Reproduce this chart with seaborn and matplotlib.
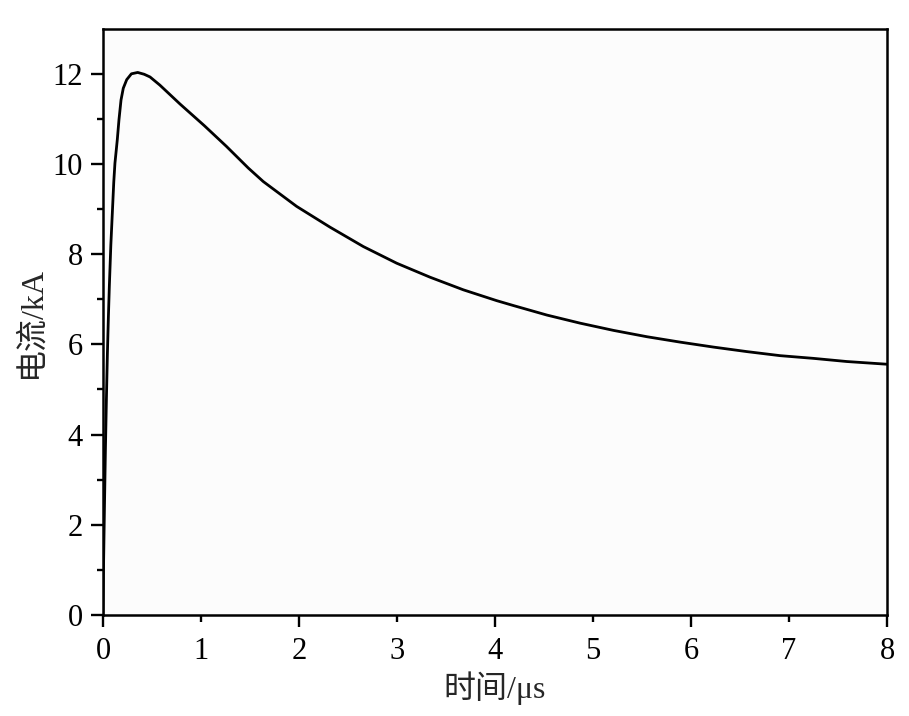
import numpy as np
import pandas as pd
import seaborn as sns
import matplotlib
matplotlib.use('Agg')
import matplotlib.pyplot as plt
import matplotlib.ticker as ticker

# values (time in us, current in kA)
time_us = [0, 0.005, 0.015, 0.025, 0.035, 0.045, 0.055, 0.065, 0.08, 0.095,
           0.11, 0.122, 0.135, 0.146, 0.163, 0.184, 0.207, 0.242, 0.29, 0.354,
           0.42, 0.48, 0.58, 0.786, 1.034, 1.26, 1.483,
           1.636, 1.976, 2.316, 2.656, 2.997, 3.337, 3.677, 4.017, 4.19, 4.53,
           4.87, 5.21, 5.55, 5.89, 6.23, 6.57, 6.91, 7.25, 7.59, 8.0]
current_ka = [0, 1.0, 2.4, 3.7, 4.8, 5.8, 6.6, 7.3, 8.2, 8.9,
              9.6, 10.02, 10.3, 10.54, 10.98, 11.42, 11.68, 11.87, 12.0, 12.03,
              11.99, 11.93, 11.75, 11.33, 10.85, 10.39, 9.91,
              9.61, 9.06, 8.60, 8.17, 7.80, 7.49, 7.21, 6.97, 6.86, 6.65,
              6.47, 6.31, 6.17, 6.05, 5.94, 5.84, 5.75, 5.69, 5.62, 5.56]

df = pd.DataFrame({'t': time_us, 'i': current_ka})

sns.set_style('ticks')
plt.rcParams['font.family'] = ['Liberation Serif', 'Noto Sans CJK SC']
plt.rcParams['axes.unicode_minus'] = False

fig = plt.figure(figsize=(9.09, 7.16), dpi=100)
ax = fig.add_axes([0.1133, 0.1411, 0.8625, 0.8188])
ax.set_facecolor('#fcfcfc')

sns.lineplot(data=df, x='t', y='i', ax=ax, color='black', linewidth=2.0,
             sort=False, estimator=None)

ax.set_xlim(0, 8)
ax.set_ylim(0, 13)

ax.xaxis.set_major_locator(ticker.FixedLocator([0, 2, 4, 6, 8]))
ax.xaxis.set_minor_locator(ticker.FixedLocator([1, 3, 5, 7]))
ax.xaxis.set_major_formatter(ticker.FormatStrFormatter('%d'))
ax.xaxis.set_minor_formatter(ticker.FormatStrFormatter('%d'))
ax.yaxis.set_major_locator(ticker.FixedLocator([0, 2, 4, 6, 8, 10, 12]))
ax.yaxis.set_minor_locator(ticker.FixedLocator([1, 3, 5, 7, 9, 11]))

ax.tick_params(axis='both', which='major', length=8.6, width=1.7,
               labelsize=22, color='black', labelcolor='black', direction='out')
ax.tick_params(axis='x', which='major', pad=7)
ax.tick_params(axis='x', which='minor', length=5, width=1.7, pad=7 + 3.6,
               labelsize=22, color='black', labelcolor='black')
ax.tick_params(axis='y', which='major', pad=6)
ax.tick_params(axis='y', which='minor', length=4.5, width=1.7, color='black')

for side in ['left', 'bottom', 'right', 'top']:
    ax.spines[side].set_visible(True)
    ax.spines[side].set_linewidth(1.8)
    ax.spines[side].set_color('black')

ax.set_xlabel('时间/μs', fontsize=23, labelpad=4)
ax.set_ylabel('电流/kA', fontsize=23, labelpad=4)

fig.savefig('out.png', dpi=100, facecolor='white')
